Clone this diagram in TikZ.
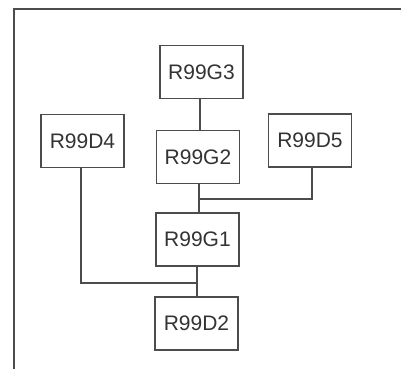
\documentclass[tikz,border=0pt]{standalone}
\usepackage{fontspec}
\setmainfont{Liberation Sans}
\usetikzlibrary{positioning}

\begin{document}
\begin{tikzpicture}[x=1pt,y=-1pt,
    unit/.style={draw=black!70, line width=1.2pt, minimum width=83pt, minimum height=53pt,
                 inner sep=0pt, font=\fontsize{21}{21}\selectfont, text=black!80},
    wire/.style={draw=black!70, line width=1.2pt}]

% Page size
\useasboundingbox (0,0) rectangle (401,369);

% Frame
\draw[wire] (14,369) -- (14,9) -- (401,9);

% Boxes
\node[unit] (g3) at (201.5,72) {R99G3};
\node[unit] (g2) at (198,157) {R99G2};
\node[unit] (d4) at (82.5,141) {R99D4};
\node[unit] (d5) at (310,140.5) {R99D5};
\node[unit] (g1) at (197.5,239.5) {R99G1};
\node[unit] (d2) at (196.5,323.5) {R99D2};

% Junctions
\coordinate (j1) at (199,199);
\coordinate (j2) at (197,283);

% Links
\draw[wire] (g3.south -| 200,0) -- (g2.north -| 200,0);
\draw[wire] (g2.south -| j1) -- (g1.north -| j1);
\draw[wire] (j1) -| (d5.south -| 312,0);
\draw[wire] (g1.south -| j2) -- (d2.north -| j2);
\draw[wire] (j2) -| (d4.south -| 81,0);

\end{tikzpicture}
\end{document}
